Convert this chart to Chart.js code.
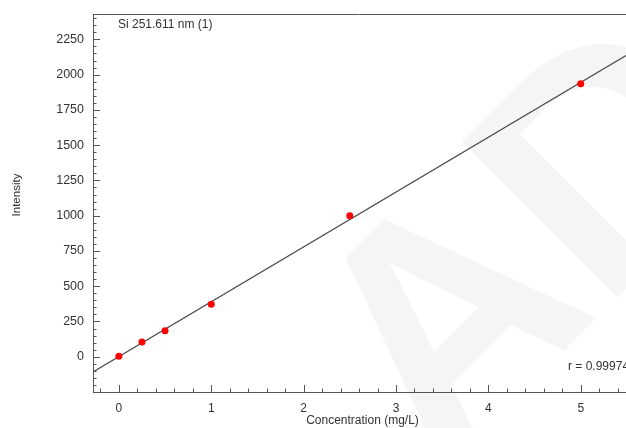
<!DOCTYPE html>
<html>
<head>
<meta charset="utf-8">
<script src="https://cdn.jsdelivr.net/npm/chart.js@4/dist/chart.umd.min.js"></script>
<style>
  html, body { margin: 0; padding: 0; background: #ffffff; }
  #wrap { width: 626px; height: 428px; }
</style>
</head>
<body>
<div id="wrap"><canvas id="c" width="626" height="428"></canvas></div>
<script>
// Calibration standards: concentration (mg/L) and measured intensity
const concentrations = [0, 0.25, 0.5, 1, 2.5, 5];
const intensities = [3, 105, 184, 373, 999, 1936];

// Axis ticks and ranges
const xTickValues = [0, 1, 2, 3, 4, 5];
const yTickValues = [0, 250, 500, 750, 1000, 1250, 1500, 1750, 2000, 2250];
const xRange = [-0.28, 5.49];
const yRange = [-250, 2430];
const xMinorStep = 0.2;
const yMinorStep = 50;

// Labels
const lineTitle = 'Si 251.611 nm (1)';
const correlationLabel = 'r = 0.99974';
const xAxisTitle = 'Concentration (mg/L)';
const yAxisTitle = 'Intensity';
const watermarkText = 'AD';

const FONT = '"Liberation Sans", Arial, sans-serif';
const TEXT = '#333333';
const AXIS = '#555555';

// Least-squares calibration line through the standards
function linearFit(xs, ys) {
  const n = xs.length;
  const mx = xs.reduce((a, b) => a + b, 0) / n;
  const my = ys.reduce((a, b) => a + b, 0) / n;
  let sxy = 0, sxx = 0;
  for (let i = 0; i < n; i++) {
    sxy += (xs[i] - mx) * (ys[i] - my);
    sxx += (xs[i] - mx) * (xs[i] - mx);
  }
  const slope = sxy / sxx;
  return { slope, intercept: my - slope * mx };
}
const fit = linearFit(concentrations, intensities);
const fitLine = xRange.map(x => ({ x, y: fit.slope * x + fit.intercept }));

const standards = concentrations.map((x, i) => ({ x, y: intensities[i] }));

function range(from, to, step) {
  const out = [];
  const n = Math.floor((to - from) / step + 1e-9);
  for (let i = 0; i <= n; i++) out.push(+(from + i * step).toFixed(6));
  return out;
}

// Faint diagonal watermark behind the plot
const watermarkPlugin = {
  id: 'watermark',
  beforeDraw(chart) {
    const { ctx } = chart;
    ctx.save();
    ctx.fillStyle = '#f5f5f5';
    ctx.font = 'bold 320px ' + FONT;
    ctx.translate(540, 250);
    ctx.rotate(-45 * Math.PI / 180);
    ctx.textAlign = 'center';
    ctx.textBaseline = 'middle';
    ctx.fillText(watermarkText, 0, 0);
    ctx.restore();
  }
};

// Inward tick marks, top frame line and text annotations
const framePlugin = {
  id: 'frame',
  afterDraw(chart) {
    const { ctx, chartArea: a, scales: { x, y } } = chart;
    ctx.save();
    ctx.strokeStyle = AXIS;
    ctx.lineWidth = 1;
    // top frame
    ctx.beginPath();
    ctx.moveTo(a.left, a.top + 0.5);
    ctx.lineTo(a.right, a.top + 0.5);
    ctx.stroke();
    // x ticks
    const xStart = Math.ceil(xRange[0] / xMinorStep) * xMinorStep;
    range(xStart, xRange[1], xMinorStep).forEach(v => {
      const major = Math.abs(v - Math.round(v)) < 1e-6;
      const px = Math.round(x.getPixelForValue(v)) + 0.5;
      ctx.beginPath();
      ctx.moveTo(px, a.bottom);
      ctx.lineTo(px, a.bottom - (major ? 7 : 3.5));
      ctx.stroke();
    });
    // y ticks
    range(yRange[0], yRange[1], yMinorStep).forEach(v => {
      const major = v % 250 === 0;
      const py = Math.round(y.getPixelForValue(v)) + 0.5;
      ctx.beginPath();
      ctx.moveTo(a.left, py);
      ctx.lineTo(a.left + (major ? 7 : 3.5), py);
      ctx.stroke();
    });
    // texts
    ctx.fillStyle = TEXT;
    ctx.font = '12px ' + FONT;
    ctx.textBaseline = 'middle';
    ctx.textAlign = 'left';
    ctx.fillText(lineTitle, a.left + 25, a.top + 11);
    ctx.fillText(correlationLabel, a.left + 475, a.bottom - 25);
    ctx.textAlign = 'center';
    ctx.fillText(xAxisTitle, (a.left + a.right) / 2 + 3, a.bottom + 29);
    ctx.translate(17, 195);
    ctx.rotate(-Math.PI / 2);
    ctx.font = '11.5px ' + FONT;
    ctx.fillText(yAxisTitle, 0, 0);
    ctx.restore();
  }
};

const plainNumber = v => String(v);

new Chart(document.getElementById('c'), {
  type: 'scatter',
  data: {
    datasets: [
      {
        type: 'line',
        data: fitLine,
        borderColor: '#4a4a4a',
        borderWidth: 1.2,
        pointRadius: 0,
        fill: false,
        order: 2
      },
      {
        data: standards,
        backgroundColor: '#ff0000',
        borderColor: '#ff0000',
        pointRadius: 3.5,
        pointBorderWidth: 0,
        order: 1
      }
    ]
  },
  options: {
    responsive: false,
    animation: false,
    devicePixelRatio: 1,
    layout: { autoPadding: false, padding: { top: 14, left: 0, right: 0, bottom: 0 } },
    plugins: { legend: { display: false }, tooltip: { enabled: false } },
    scales: {
      x: {
        type: 'linear',
        min: xRange[0],
        max: xRange[1],
        afterBuildTicks: s => { s.ticks = xTickValues.map(v => ({ value: v })); },
        afterFit: s => { s.height = 36; s.paddingLeft = 0; s.paddingRight = 0; },
        grid: { display: false, drawTicks: false },
        border: { display: true, color: AXIS, width: 1 },
        ticks: { color: TEXT, font: { family: FONT, size: 12 }, padding: 9, maxRotation: 0, autoSkip: false, callback: plainNumber }
      },
      y: {
        type: 'linear',
        min: yRange[0],
        max: yRange[1],
        afterBuildTicks: s => { s.ticks = yTickValues.map(v => ({ value: v })); },
        afterFit: s => { s.width = 93; s.paddingTop = 0; s.paddingBottom = 0; },
        grid: { display: false, drawTicks: false },
        border: { display: true, color: AXIS, width: 1 },
        ticks: { color: TEXT, font: { family: FONT, size: 12.5 }, padding: 9, autoSkip: false, callback: plainNumber }
      }
    }
  },
  plugins: [watermarkPlugin, framePlugin]
});
</script>
</body>
</html>
